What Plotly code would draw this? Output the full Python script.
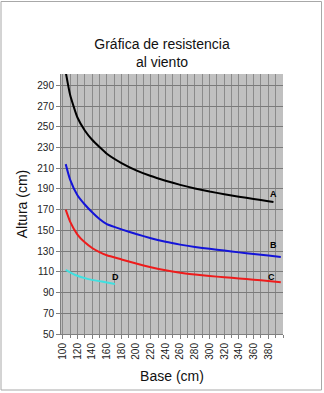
import plotly.graph_objects as go

# Data
xa = [104, 110, 120, 130, 140, 150, 160, 180, 200, 220, 240, 260, 280, 300, 320, 340, 360, 380, 387]
ya = [303, 281, 259, 246.5, 237.5, 230.5, 224, 215, 208, 202.5, 198, 194, 190.5, 187.5, 185, 182.6, 180.3, 178.2, 177.5]

xb = [104, 110, 120, 130, 140, 150, 160, 180, 200, 220, 240, 260, 280, 300, 320, 340, 360, 380, 397]
yb = [214, 199, 184, 175, 167.5, 161, 156, 151, 146.5, 142.5, 139, 136.3, 134, 132.2, 130.5, 128.8, 127.2, 125.7, 124.4]

xc = [104, 110, 120, 130, 140, 150, 160, 180, 200, 220, 240, 260, 280, 300, 320, 340, 360, 380, 397]
yc = [170, 158.5, 146, 138.5, 133, 129, 126, 122, 118, 114.5, 111.5, 109.2, 107.5, 106, 104.8, 103.6, 102.4, 101.2, 100]

xd = [104, 117, 135, 153, 171]
yd = [112, 107, 103, 100.6, 98.3]

series_names = ["A", "B", "C", "D"]
series_colors = ["#000000", "#1414d8", "#ee1c1c", "#3fe0e0"]
label_pos = [(386.5, 185.5), (387, 135.8), (385, 105), (172.5, 105)]

x_ticks = list(range(100, 381, 20))
y_ticks = list(range(50, 291, 20))

W, H = 324, 393
ml, mr, mt, mb = 61, 41, 74, 59
pw, ph = W - ml - mr, H - mt - mb

def px(x):
    return (x - ml) / pw

def py(y):
    return (H - mb - y) / ph

fig = go.Figure()
for xs, ys, c, n in zip([xa, xb, xc, xd], [ya, yb, yc, yd], series_colors, series_names):
    fig.add_trace(go.Scatter(x=xs, y=ys, mode="lines", name=n,
                             line=dict(color=c, width=2, shape="spline", smoothing=0.5),
                             showlegend=False, hoverinfo="skip"))

for n, (lx, ly) in zip(series_names, label_pos):
    fig.add_annotation(x=lx, y=ly, text="<b>" + n + "</b>", showarrow=False,
                       font=dict(size=9, color="#000000", family="Liberation Sans, Arial"))

# outer chart border
fig.add_shape(type="rect", xref="paper", yref="paper",
              x0=px(1), x1=px(321.5), y0=py(390), y1=py(1.5),
              line=dict(color="#a8a8a8", width=1), fillcolor="rgba(0,0,0,0)", layer="below")

fig.update_layout(
    width=W, height=H,
    margin=dict(l=ml, r=mr, t=mt, b=mb, pad=0),
    paper_bgcolor="#ffffff",
    plot_bgcolor="#c0c0c0",
    font=dict(family="Liberation Sans, Arial", color="#000000"),
    title=dict(text="Gráfica de resistencia<br>al viento", x=0.5, xref="container",
               xanchor="center", y=1 - 49 / H, yanchor="top",
               font=dict(size=14, color="#111111")),
    xaxis=dict(range=[97.6, 400], tickmode="array", tickvals=x_ticks,
               ticktext=[str(v) for v in x_ticks], tickangle=-90,
               tickfont=dict(size=10, color="#222222"),
               showgrid=True, gridcolor="#8a8a8a", gridwidth=1,
               minor=dict(dtick=10, tick0=100, showgrid=True, gridcolor="#8a8a8a", gridwidth=1,
                          ticks="outside", ticklen=3, tickcolor="#808080"),
               ticks="outside", ticklen=4, tickcolor="#808080",
               showline=True, linecolor="#808080", linewidth=1, zeroline=False,
               title=dict(text="Base (cm)", font=dict(size=14, color="#111111"), standoff=12)),
    yaxis=dict(range=[50, 301], tickmode="array", tickvals=y_ticks,
               ticktext=[str(v) for v in y_ticks],
               tickfont=dict(size=10, color="#222222"),
               showgrid=True, gridcolor="#7a7a7a", gridwidth=1,
               ticks="outside", ticklen=4, tickcolor="#808080",
               showline=True, linecolor="#808080", linewidth=1, zeroline=False,
               title=dict(text="Altura (cm)", font=dict(size=14, color="#111111"), standoff=6)),
)

fig.write_html("out.html")
